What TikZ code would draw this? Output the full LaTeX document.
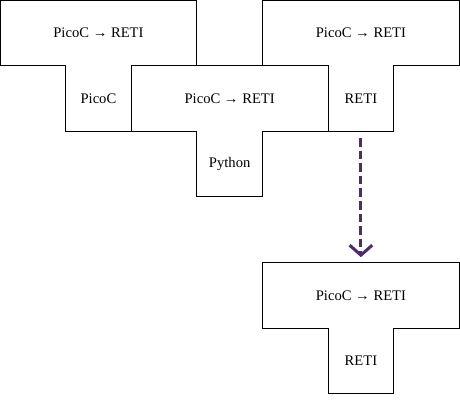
\documentclass[tikz,border=0pt]{standalone}
\usepackage{fontspec}
\setmainfont{Liberation Serif}
\usepackage{tikz}
\usetikzlibrary{arrows.meta}
\definecolor{compilepurple}{RGB}{76,44,112}
\tikzset{
  % outline of a tombstone
  tomb/.style  = {draw, line width=0.8pt, line join=miter},
  % a label inside a tombstone
  tl/.style    = {font=\fontsize{11}{13}\selectfont, inner sep=1pt},
  % the dashed "gives" arrow
  gives/.style = {-{Straight Barb[length=7.5pt,width=17pt]}, line width=2.3pt,
                  compilepurple, dash pattern=on 6.5pt off 3pt,
                  shorten <=5pt, shorten >=4pt},
}
% a T-diagram: #1 name, (#2,#3) top left corner, #4 top text, #5 stem text
\newcommand{\tdiag}[5]{%
  \draw[tomb] (#2,#3) -- ++(3,0) -- ++(0,1) -- ++(-1,0) -- ++(0,1)
              -- ++(-1,0) -- ++(0,-1) -- ++(-1,0) -- cycle;
  \node[tl] (#1top)  at (#2+1.5,#3+0.5) {#4};
  \node[tl] (#1stem) at (#2+1.5,#3+1.5) {#5};
  \coordinate (#1in)  at (#2+1.5,#3);
  \coordinate (#1out) at (#2+1.5,#3+2);
}

\begin{document}
\begin{tikzpicture}[x=1.736cm, y=-1.736cm]
  \useasboundingbox (0,0) rectangle (7.01,6.10);
  \tdiag{a}{0}{0}{PicoC → RETI}{PicoC}
  \tdiag{b}{2}{1}{PicoC → RETI}{Python}
  \tdiag{c}{4}{0}{PicoC → RETI}{RETI}
  \tdiag{d}{4}{4}{PicoC → RETI}{RETI}
  \draw[gives] (cout) -- (din);
\end{tikzpicture}
\end{document}
